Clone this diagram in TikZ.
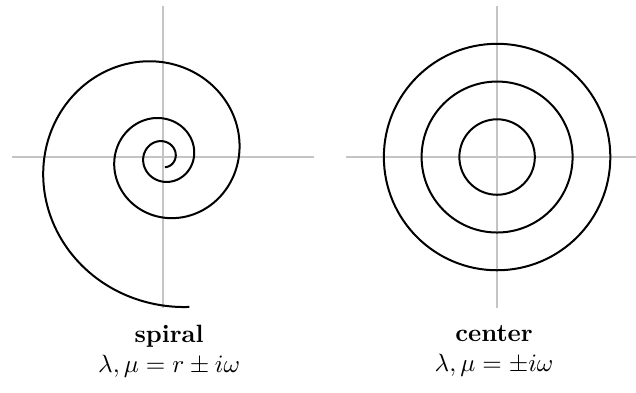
\documentclass[tikz,border=0pt]{standalone}
\usepackage{amsmath}
\usepackage{xcolor}
\usepackage{tikz}
\usetikzlibrary{positioning}
\definecolor{axgray}{HTML}{C4C4C4}

\begin{document}
\begin{tikzpicture}[x=0.53cm, y=0.53cm,
  paxis/.style={axgray, line width=0.5pt},
  pcurve/.style={black, line width=0.8pt},
  plabel/.style={font=\normalsize, align=center, inner sep=0pt},
]
\clip (-4.32,-6.23) rectangle (12.53,4.16);
% spiral
\draw[paxis] (-4,0) -- (4,0);
\draw[paxis] (0,-4) -- (0,4);
\draw[pcurve] plot[domain=-80:1000, samples=400, smooth] (\x:{exp(rad(\x)/7)/3});
\node[plabel] (spirallbl) at (0.16,-5.14) {\textbf{spiral}\\ $\lambda,\mu = r \pm i\omega$};
% center
\begin{scope}[xshift=8.85*0.53cm]
\draw[paxis] (-4,0) -- (4,0);
\draw[paxis] (0,-4) -- (0,4);
\foreach \rr in {1,2,3}
  \draw[pcurve] (0,0) circle (\rr);
\node[plabel] (centerlbl) at (-0.08,-5.14) {\textbf{center}\\ $\lambda,\mu = \pm i\omega$};
\end{scope}
\end{tikzpicture}
\end{document}
